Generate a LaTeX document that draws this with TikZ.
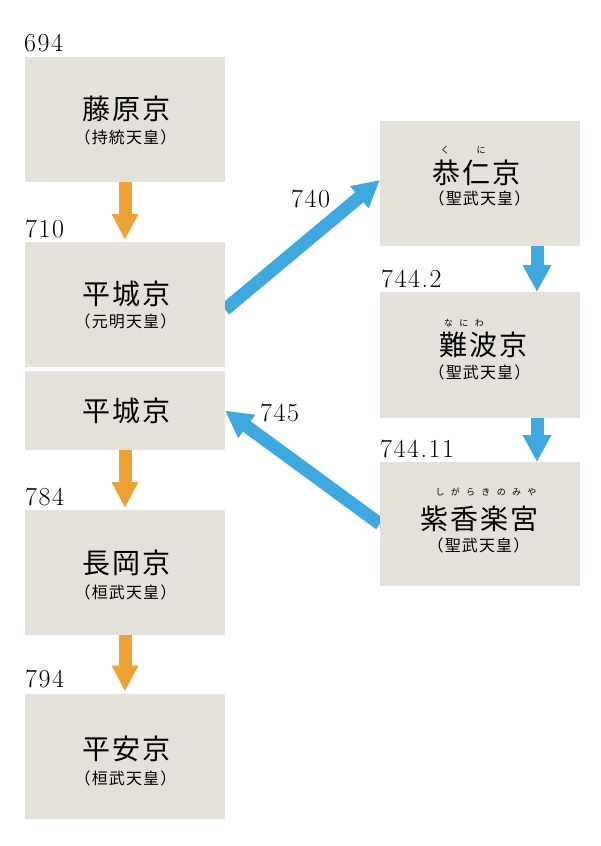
\documentclass[tikz,border=0pt]{standalone}
\usepackage{fontspec}
\newfontfamily\jpmain{Noto Sans CJK JP}[LetterSpace=7]
\newfontfamily\jpsub{Noto Sans CJK JP}[LetterSpace=7]
\newfontfamily\jpone{Noto Sans CJK JP}
\newfontfamily\jpruby{Noto Sans CJK JP}[LetterSpace=70]
\newfontfamily\yearfont{Latin Modern Roman}[LetterSpace=6]
\usetikzlibrary{arrows.meta,backgrounds}
\definecolor{boxfill}{HTML}{E4E1DA}
\definecolor{arrorange}{HTML}{EEA135}
\definecolor{arrblue}{HTML}{3FA9DF}
\tikzset{
  capbox/.style={fill=boxfill, draw=none, minimum width=200pt, minimum height=125pt, inner sep=0pt, outer sep=0pt},
  mainname/.style={inner sep=0pt, font=\jpmain\fontsize{28}{28}\selectfont},
  subname/.style={inner sep=0pt, font=\jpsub\fontsize{16}{16}\selectfont},
  rubytext/.style={inner sep=0pt, font=\jpruby\fontsize{9}{9}\selectfont},
  rubyone/.style={inner sep=0pt, font=\jpone\fontsize{9}{9}\selectfont},
  yearlabel/.style={inner sep=0pt, anchor=base west, font=\yearfont\fontsize{26}{26}\selectfont},
  orangearrow/.style={draw=arrorange, line width=13pt, -{Triangle[width=25pt,length=26pt]}, shorten >=2pt},
  bluearrow/.style={draw=arrblue, line width=13pt, -{Triangle[width=27pt,length=27pt]}},
}
\begin{document}
\begin{tikzpicture}[x=1pt,y=-1pt]
\useasboundingbox (0,0) rectangle (600,846);
% boxes
\node[capbox] (fuji) at (125,119.5) {};
\node[capbox] (heijoA) at (125,304.5) {};
\node[capbox, minimum height=79pt] (heijoB) at (125,410.5) {};
\node[capbox] (nagaoka) at (125,572.5) {};
\node[capbox] (heian) at (125,756) {};
\node[capbox] (kuni) at (480,183.5) {};
\node[capbox, minimum height=126pt] (naniwa) at (480,355) {};
\node[capbox, minimum height=124pt] (shiga) at (480,524) {};
% arrows
\begin{scope}[on background layer]
\draw[orangearrow] (fuji.south) -- (heijoA.north);
\draw[orangearrow] (heijoB.south) -- (nagaoka.north);
\draw[orangearrow] (nagaoka.south) -- (heian.north);
\draw[bluearrow] ([xshift=57pt]kuni.south) -- ([xshift=57pt]naniwa.north);
\draw[bluearrow] ([xshift=57pt]naniwa.south) -- ([xshift=57pt]shiga.north);
\draw[bluearrow] ([yshift=-5pt]heijoA.east) -- ([yshift=3.5pt]kuni.west);
\draw[bluearrow] (shiga.west) -- (heijoB.east);
\end{scope}
% texts
\node[mainname] (t1) at (126.5,108.5) {藤原京};
\node[subname] (s1) at (125.5,137.5) {（持統天皇）};
\node[mainname] (t2) at (126.5,293.5) {平城京};
\node[subname] (s2) at (125.5,321.5) {（元明天皇）};
\node[mainname] (t3) at (126.5,410.5) {平城京};
\node[mainname] (t4) at (126.5,563) {長岡京};
\node[subname] (s4) at (125.5,592) {（桓武天皇）};
\node[mainname] (t5) at (126.5,749) {平安京};
\node[subname] (s5) at (125.5,778) {（桓武天皇）};
\node[rubyone] (r6a) at (445,150) {く};
\node[rubyone] (r6b) at (481,150) {に};
\node[mainname] (t6) at (476.5,173) {恭仁京};
\node[subname] (s6) at (479.5,198) {（聖武天皇）};
\node[rubytext] (r7) at (464,323) {なにわ};
\node[mainname] (t7) at (483.5,345) {難波京};
\node[subname] (s7) at (479.5,372.5) {（聖武天皇）};
\node[rubytext] (r8) at (486,492) {しがらきのみや};
\node[mainname] (t8) at (479.5,518.5) {紫香楽宮};
\node[subname] (s8) at (478.5,545.5) {（聖武天皇）};
% years
\node[yearlabel] (y694) at (24,51) {694};
\node[yearlabel] (y710) at (25,237) {710};
\node[yearlabel] (y740) at (291,207) {740};
\node[yearlabel] (y7442) at (381,287) {744.2};
\node[yearlabel] (y745) at (260,421) {745};
\node[yearlabel] (y74411) at (380,457) {744.11};
\node[yearlabel] (y784) at (25,505) {784};
\node[yearlabel] (y794) at (25,687) {794};
\end{tikzpicture}
\end{document}
